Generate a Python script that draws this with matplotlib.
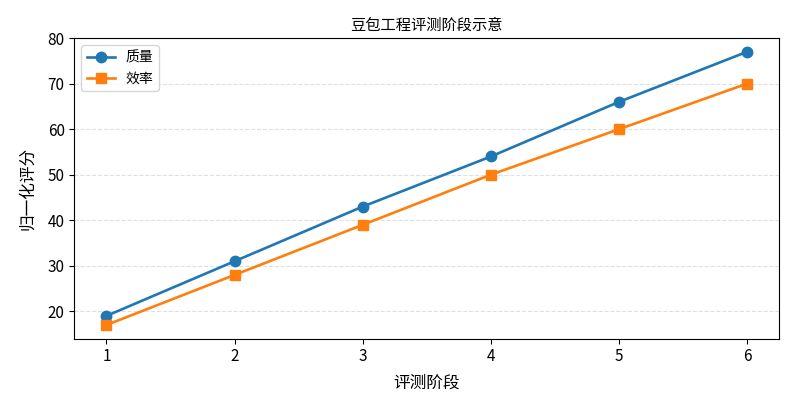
import matplotlib
matplotlib.use("Agg")
import matplotlib.pyplot as plt

plt.rcParams['font.family'] = ['Noto Sans CJK SC', 'DejaVu Sans']

stages = [1, 2, 3, 4, 5, 6]
quality = [19, 31, 43, 54, 66, 77]
efficiency = [17, 28, 39, 50, 60, 70]

fig, ax = plt.subplots(figsize=(7.92, 4.09), dpi=100)
ax.plot(stages, quality, marker='o', color='#1f77b4', label='质量', markersize=7.5, linewidth=1.9)
ax.plot(stages, efficiency, marker='s', color='#ff7f0e', label='效率', markersize=7.5, linewidth=1.9)
ax.set_title('豆包工程评测阶段示意', fontsize=11)
ax.set_xlabel('评测阶段', fontsize=12, labelpad=7)
ax.set_ylabel('归一化评分', fontsize=12, labelpad=8)
ax.tick_params(labelsize=11)
ax.set_xticks(stages)
ax.set_ylim(14, 80)
ax.grid(axis='y', linestyle='--', alpha=0.4)
ax.legend(loc='upper left', fontsize=10)
fig.subplots_adjust(left=0.094, right=0.984, top=0.907, bottom=0.172)
fig.savefig('out.png', dpi=100)
